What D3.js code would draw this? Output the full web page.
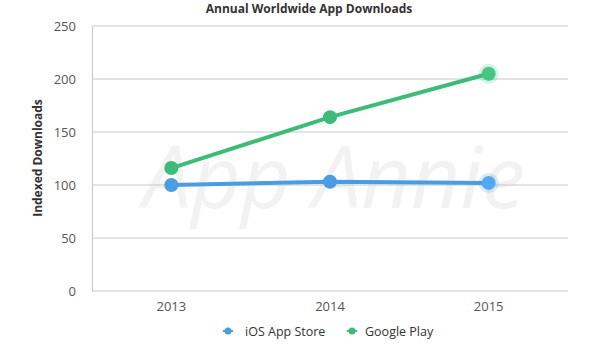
<!DOCTYPE html>
<html>
<head>
<meta charset="utf-8">
<script src="https://cdn.jsdelivr.net/npm/d3@7"></script>
<style>
  body { margin: 0; background: #fff; }
  text { font-family: "Open Sans", "Lato", sans-serif; }
</style>
</head>
<body>
<svg id="chart"></svg>
<script>
// Data
const years = ["2013", "2014", "2015"];
const iosValues = [100, 103, 102];
const googleValues = [116, 164, 205];
const yTicks = [0, 50, 100, 150, 200, 250];

const series = [
    { name: "iOS App Store", color: "#4a9de2", values: iosValues },
    { name: "Google Play", color: "#3dbb78", values: googleValues }
];

const width = 615, height = 344, margin = { top: 26, right: 47, bottom: 53, left: 92 };
const svg = d3.select("#chart")
              .attr("width", width)
              .attr("height", height);

const xScale = d3.scaleBand()
                 .domain(years)
                 .range([margin.left, width - margin.right]);

const yScale = d3.scaleLinear()
                 .domain([0, 250])
                 .range([height - margin.bottom, margin.top]);

// Title
svg.append("text")
   .attr("x", 309).attr("y", 13)
   .attr("text-anchor", "middle")
   .attr("font-size", 12).attr("font-weight", "bold")
   .attr("fill", "#333")
   .text("Annual Worldwide App Downloads");

// Watermark
svg.append("text")
   .attr("x", 334).attr("y", 208)
   .attr("text-anchor", "middle")
   .attr("font-size", 86).attr("font-style", "italic")
   .attr("fill", "#f2f2f2")
   .text("App Annie");

// Gridlines
svg.append("g")
   .selectAll("line")
   .data(yTicks)
   .join("line")
   .attr("x1", margin.left).attr("x2", width - margin.right)
   .attr("y1", d => yScale(d)).attr("y2", d => yScale(d))
   .attr("stroke", "#c8c8c8").attr("stroke-width", 1);

// Y axis
const yAxis = svg.append("g")
   .attr("transform", `translate(${margin.left}, 0)`)
   .call(d3.axisLeft(yScale).tickValues(yTicks).tickSize(0).tickPadding(16));
yAxis.select(".domain").attr("stroke", "#c8c8c8");
yAxis.selectAll("text").attr("font-size", 13).attr("fill", "#555")
     .style("font-family", "Open Sans, sans-serif");

// X axis
const xAxis = svg.append("g")
   .attr("transform", `translate(0, ${height - margin.bottom})`)
   .call(d3.axisBottom(xScale).tickSize(0).tickPadding(11));
xAxis.select(".domain").remove();
xAxis.selectAll("text").attr("font-size", 13).attr("fill", "#555")
     .style("font-family", "Open Sans, sans-serif");

// Y axis title
svg.append("text")
   .attr("transform", "translate(42, 158) rotate(-90)")
   .attr("text-anchor", "middle")
   .attr("font-size", 12).attr("font-weight", "bold")
   .attr("fill", "#333")
   .text("Indexed Downloads");

// Lines
const line = d3.line()
               .x((d, i) => xScale(years[i]) + xScale.bandwidth() / 2)
               .y(d => yScale(d));

series.forEach(s => {
    svg.append("path")
       .datum(s.values)
       .attr("fill", "none")
       .attr("stroke", s.color)
       .attr("stroke-width", 4)
       .attr("d", line);

    const g = svg.append("g");
    // halo on the last (hovered) point
    g.append("circle")
     .attr("cx", xScale(years[2]) + xScale.bandwidth() / 2)
     .attr("cy", yScale(s.values[2]))
     .attr("r", 10)
     .attr("fill", s.color).attr("opacity", 0.2);

    g.selectAll("circle.pt")
     .data(s.values)
     .join("circle")
     .attr("class", "pt")
     .attr("cx", (d, i) => xScale(years[i]) + xScale.bandwidth() / 2)
     .attr("cy", d => yScale(d))
     .attr("r", 7)
     .attr("fill", (d, i) => i === 2 ? d3.color(s.color).brighter(0.2) : s.color);
});

// Legend
const legendX = [223, 347];
const legendTextX = [22, 18];
series.forEach((s, i) => {
    const lg = svg.append("g").attr("transform", `translate(${legendX[i]}, 331)`);
    lg.append("line").attr("x1", 0).attr("x2", 10)
      .attr("stroke", s.color).attr("stroke-width", 2);
    lg.append("circle").attr("cx", 5).attr("r", 3.5).attr("fill", s.color);
    lg.append("text").attr("x", legendTextX[i]).attr("y", 4.5)
      .attr("font-size", 12.5).attr("fill", "#333")
      .text(s.name);
});
</script>
</body>
</html>
